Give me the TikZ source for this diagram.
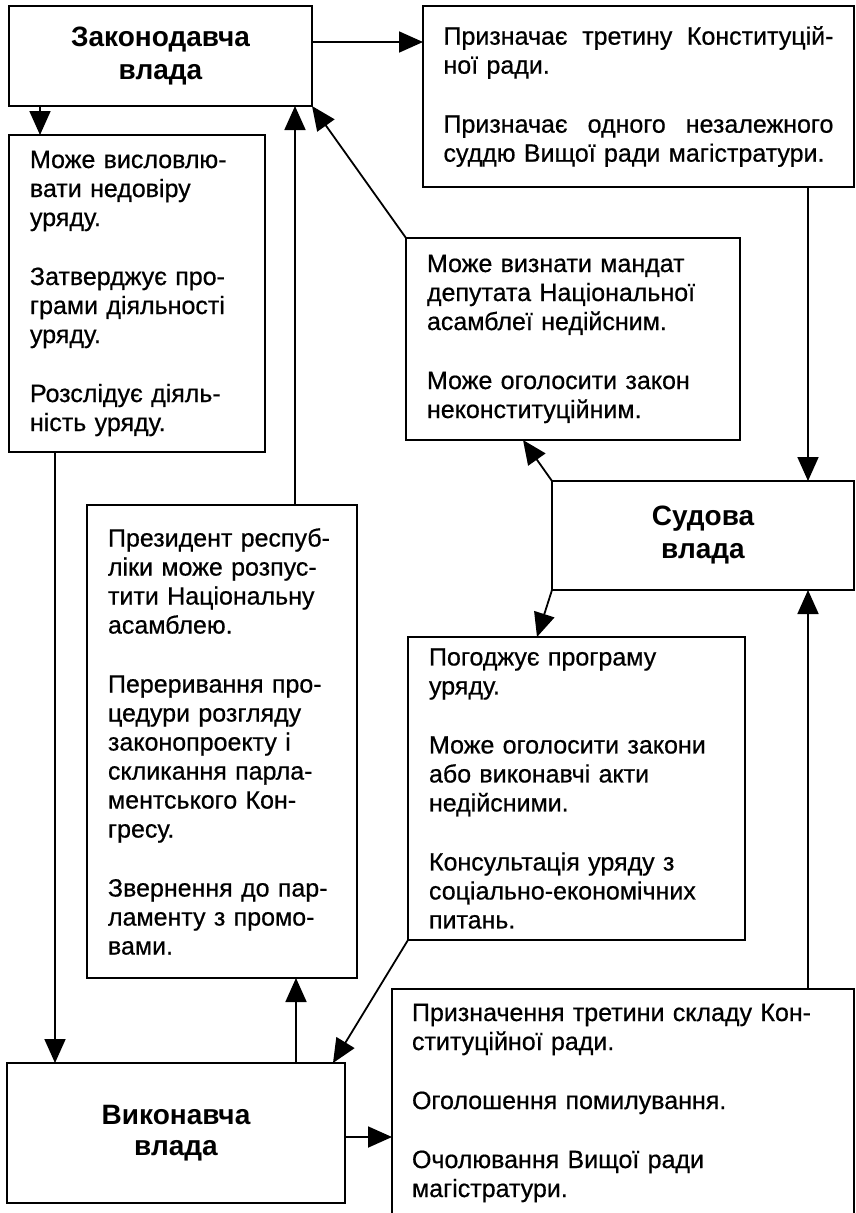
\documentclass[tikz,border=0pt]{standalone}
\usepackage{fontspec}
\setmainfont{Liberation Sans}
\newfontfamily\bodyfont{Liberation Sans}[FakeBold=0.6]
\usetikzlibrary{arrows.meta,calc}
\begin{document}
\begin{tikzpicture}[x=1pt,y=-1pt,
  txtbox/.style={draw, line width=2.2pt, anchor=north west, inner ysep=0pt, inner xsep=20pt, outer sep=0pt,
    font=\bodyfont\fontsize{25}{29}\selectfont, align=left},
  headbox/.style={draw, line width=2.2pt, anchor=north west, inner sep=0pt, outer sep=0pt,
    font=\fontsize{28}{33}\selectfont\bfseries, align=center},
  arr/.style={line width=1.8pt, -{Triangle[length=24pt,width=21pt]}}]
\clip (0,0) rectangle (856,1213);
\fill[white] (0,0) rectangle (856,1213);

\node[headbox, minimum width=303pt, minimum height=100pt] (L) at (9,6) {Законодавча\\влада};
\node[txtbox, minimum width=431pt, minimum height=181pt, text width=390pt, inner xsep=20.5pt] (T1) at (423,6)
  {\leavevmode\hbox to 390pt{Призначає\hfill третину\hfill Конституцій-}\\ної ради.\\[30pt]\leavevmode\hbox to 390pt{Призначає\hfill одного\hfill незалежного}\\суддю Вищої ради магістратури.};
\node[txtbox, minimum width=256pt, minimum height=317pt, text width=214pt, inner xsep=21pt] (L1) at (9,135)
  {Може висловлю-\\вати недовіру\\уряду.\\[30pt]Затверджує про-\\грами діяльності\\уряду.\\[30pt]Розслідує діяль-\\ність уряду.};
\node[txtbox, minimum width=334pt, minimum height=202pt, text width=292pt, inner xsep=21pt] (M1) at (406,238)
  {Може визнати мандат\\депутата Національної\\асамблеї недійсним.\\[30pt]Може оголосити закон\\неконституційним.};
\node[headbox, minimum width=302pt, minimum height=109pt] (S) at (552,481) {Судова\\влада};
\node[txtbox, minimum width=270pt, minimum height=473pt, text width=228pt, inner xsep=21pt] (P) at (87,505)
  {Президент респуб-\\ліки може розпус-\\тити Національну\\асамблею.\\[30pt]Переривання про-\\цедури розгляду\\законопроекту і\\скликання парла-\\ментського Кон-\\гресу.\\[30pt]Звернення до пар-\\ламенту з промо-\\вами.};
\node[txtbox, minimum width=337pt, minimum height=303pt, text width=295pt, inner xsep=21pt] (M2) at (408,637)
  {Погоджує програму\\уряду.\\[30pt]Може оголосити закони\\або виконавчі акти\\недійсними.\\[30pt]Консультація уряду з\\соціально-економічних\\питань.};
\node[headbox, minimum width=338pt, minimum height=140pt, font=\fontsize{28}{31}\selectfont\bfseries] (V) at (7,1063) {Виконавча\\влада};
\node[txtbox, minimum width=462pt, minimum height=228pt, text width=422pt, inner xsep=20pt] (B3) at (392,989)
  {Призначення третини складу Кон-\\ституційної ради.\\[30pt]Оголошення помилування.\\[30pt]Очолювання Вищої ради\\магістратури.};

\coordinate (yA) at (0,42);
\coordinate (yB) at (0,1137);
\coordinate (xA) at (40,0);
\coordinate (xB) at (55,0);
\coordinate (xC) at (295,0);
\coordinate (xD) at (808,0);
\coordinate (xE) at (523,0);
\coordinate (xF) at (537,0);
\coordinate (xG) at (333,0);
\coordinate (xH) at (296,0);

\draw[arr] (L.east |- yA) -- (T1.west |- yA);
\draw[arr] (L.south -| xA) -- (L1.north -| xA);
\draw[arr] (L1.south -| xB) -- (V.north -| xB);
\draw[arr] (P.north -| xC) -- (L.south -| xC);
\draw[arr] (M1.north west) -- (L.south east);
\draw[arr] (T1.south -| xD) -- (S.north -| xD);
\draw[arr] (S.north west) -- (M1.south -| xE);
\draw[arr] (S.south west) -- (M2.north -| xF);
\draw[arr] (M2.south west) -- (V.north -| xG);
\draw[arr] (V.north -| xH) -- (P.south -| xH);
\draw[arr] (B3.north -| xD) -- (S.south -| xD);
\draw[arr] (V.east |- yB) -- (B3.west |- yB);
\end{tikzpicture}
\end{document}
